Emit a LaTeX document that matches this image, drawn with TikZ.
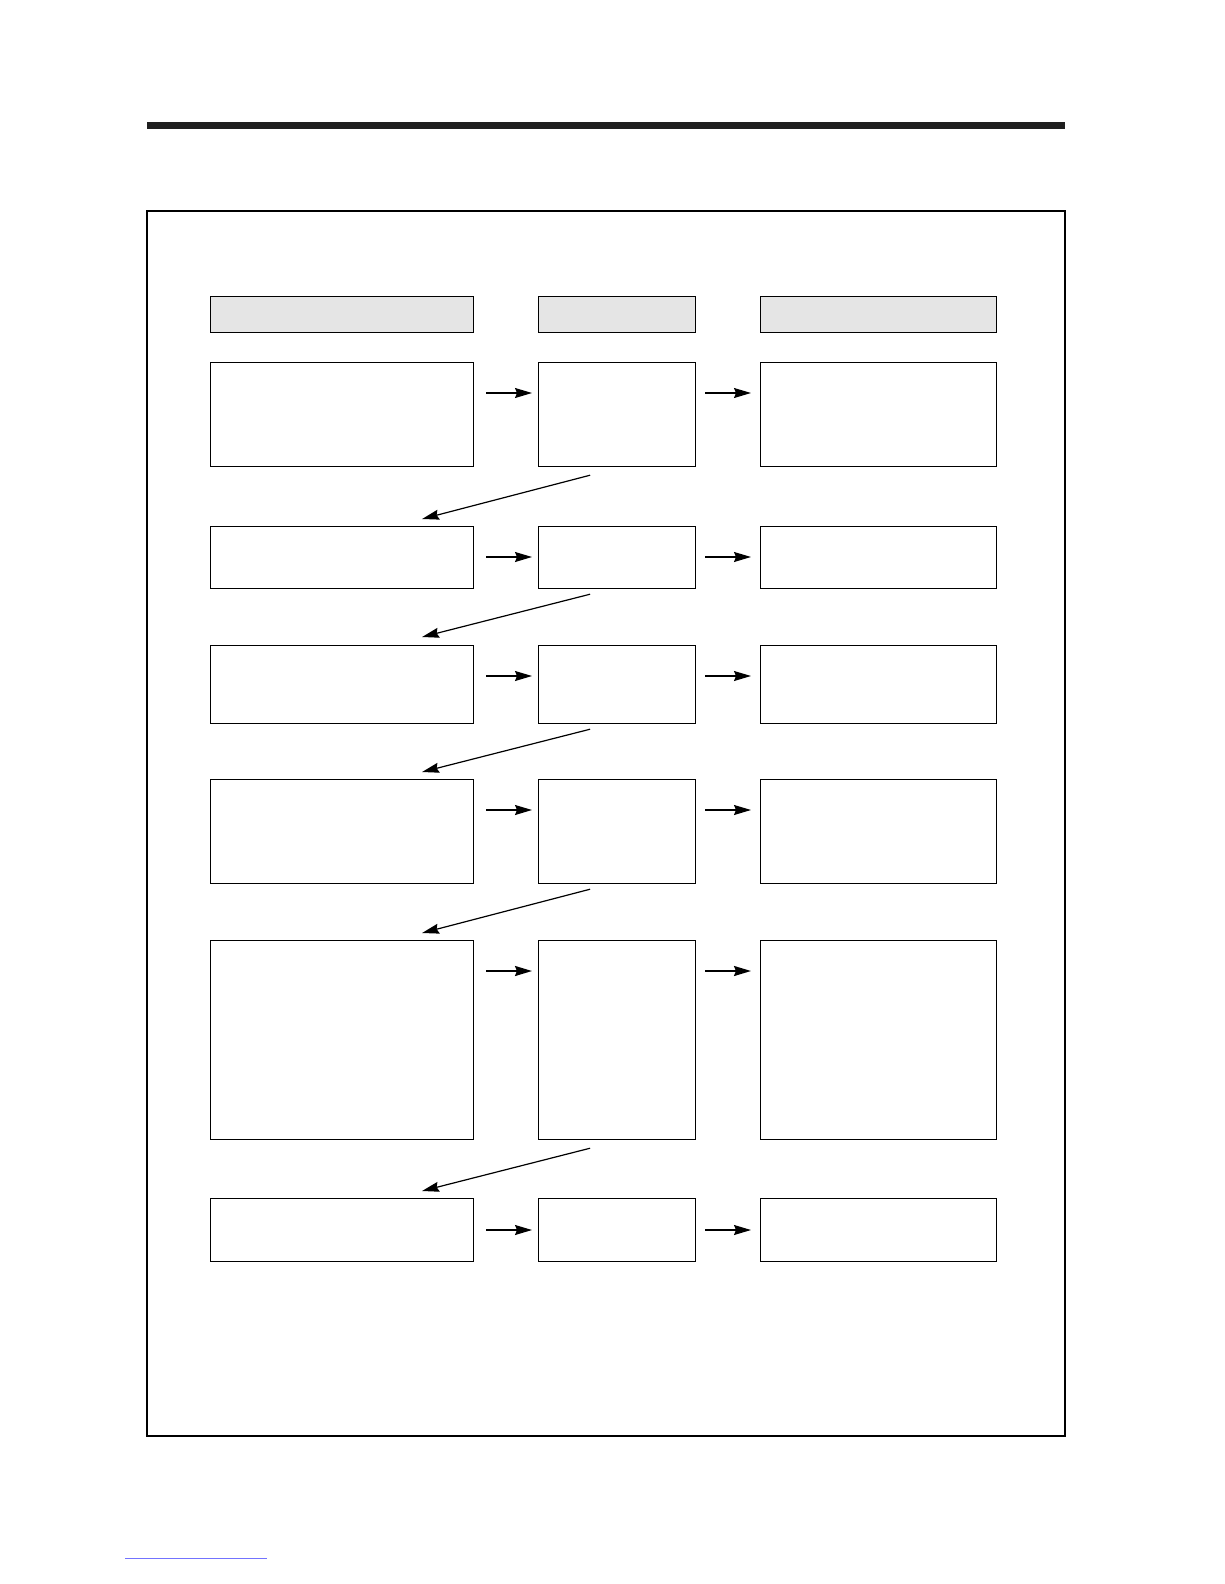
\documentclass[tikz,border=0pt]{standalone}
\usepackage{tikz}
\usetikzlibrary{arrows.meta}

\tikzset{
	box/.style={draw, line width=1.2pt, inner sep=0pt, anchor=north west},
	head/.style={box, fill=black!10},
	arr/.style={line width=1.2pt, -{Stealth[length=17pt,width=10pt,inset=2pt]}},
	darr/.style={arr, shorten <=0pt},
}

\begin{document}
\begin{tikzpicture}[x=1pt,y=-1pt]
	\useasboundingbox (0,0) rectangle (1224,1584);
	\fill[black!88] (147,122) rectangle (1065,129);
	\draw[line width=1.2pt] (147,211) rectangle (1065,1436);
	% headers
	\node[head, minimum width=263pt, minimum height=36pt] (ha) at (210,296) {};
	\node[head, minimum width=157pt, minimum height=36pt] (hb) at (538,296) {};
	\node[head, minimum width=236pt, minimum height=36pt] (hc) at (760,296) {};
	% rows
	\node[box, minimum width=263pt, minimum height=104pt] (a1) at (210,362) {};
	\node[box, minimum width=157pt, minimum height=104pt] (b1) at (538,362) {};
	\node[box, minimum width=236pt, minimum height=104pt] (c1) at (760,362) {};
	\node[box, minimum width=263pt, minimum height=62pt] (a2) at (210,526) {};
	\node[box, minimum width=157pt, minimum height=62pt] (b2) at (538,526) {};
	\node[box, minimum width=236pt, minimum height=62pt] (c2) at (760,526) {};
	\node[box, minimum width=263pt, minimum height=78pt] (a3) at (210,645) {};
	\node[box, minimum width=157pt, minimum height=78pt] (b3) at (538,645) {};
	\node[box, minimum width=236pt, minimum height=78pt] (c3) at (760,645) {};
	\node[box, minimum width=263pt, minimum height=104pt] (a4) at (210,779) {};
	\node[box, minimum width=157pt, minimum height=104pt] (b4) at (538,779) {};
	\node[box, minimum width=236pt, minimum height=104pt] (c4) at (760,779) {};
	\node[box, minimum width=263pt, minimum height=199pt] (a5) at (210,940) {};
	\node[box, minimum width=157pt, minimum height=199pt] (b5) at (538,940) {};
	\node[box, minimum width=236pt, minimum height=199pt] (c5) at (760,940) {};
	\node[box, minimum width=263pt, minimum height=63pt] (a6) at (210,1198) {};
	\node[box, minimum width=157pt, minimum height=63pt] (b6) at (538,1198) {};
	\node[box, minimum width=236pt, minimum height=63pt] (c6) at (760,1198) {};
	% across
	\draw[arr, shorten <=12pt, shorten >=6pt] ([yshift=-31pt]a1.north east) -- ([yshift=-31pt]b1.north west);
	\draw[arr, shorten <=9pt, shorten >=9pt] ([yshift=-31pt]b1.north east) -- ([yshift=-31pt]c1.north west);
	\draw[arr, shorten <=12pt, shorten >=6pt] ([yshift=-31pt]a2.north east) -- ([yshift=-31pt]b2.north west);
	\draw[arr, shorten <=9pt, shorten >=9pt] ([yshift=-31pt]b2.north east) -- ([yshift=-31pt]c2.north west);
	\draw[arr, shorten <=12pt, shorten >=6pt] ([yshift=-31pt]a3.north east) -- ([yshift=-31pt]b3.north west);
	\draw[arr, shorten <=9pt, shorten >=9pt] ([yshift=-31pt]b3.north east) -- ([yshift=-31pt]c3.north west);
	\draw[arr, shorten <=12pt, shorten >=6pt] ([yshift=-31pt]a4.north east) -- ([yshift=-31pt]b4.north west);
	\draw[arr, shorten <=9pt, shorten >=9pt] ([yshift=-31pt]b4.north east) -- ([yshift=-31pt]c4.north west);
	\draw[arr, line width=2pt, shorten <=12pt, shorten >=6pt] ([yshift=-31pt]a5.north east) -- ([yshift=-31pt]b5.north west);
	\draw[arr, line width=2pt, shorten <=9pt, shorten >=9pt] ([yshift=-31pt]b5.north east) -- ([yshift=-31pt]c5.north west);
	\draw[arr, shorten <=12pt, shorten >=6pt] ([yshift=-32pt]a6.north east) -- ([yshift=-32pt]b6.north west);
	\draw[arr, shorten <=9pt, shorten >=9pt] ([yshift=-32pt]b6.north east) -- ([yshift=-32pt]c6.north west);
	% down to next row
	\draw[darr] ([xshift=-27pt,yshift=-8pt]b1.south) -- ([xshift=80pt,yshift=7pt]a2.north);
	\draw[darr] ([xshift=-27pt,yshift=-5pt]b2.south) -- ([xshift=80pt,yshift=8pt]a3.north);
	\draw[darr] ([xshift=-27pt,yshift=-5pt]b3.south) -- ([xshift=80pt,yshift=7pt]a4.north);
	\draw[darr] ([xshift=-27pt,yshift=-5pt]b4.south) -- ([xshift=80pt,yshift=7pt]a5.north);
	\draw[darr] ([xshift=-27pt,yshift=-8pt]b5.south) -- ([xshift=80pt,yshift=7pt]a6.north);
	\draw[blue!55, line width=0.8pt] (125,1558) -- (267,1558);
\end{tikzpicture}
\end{document}
